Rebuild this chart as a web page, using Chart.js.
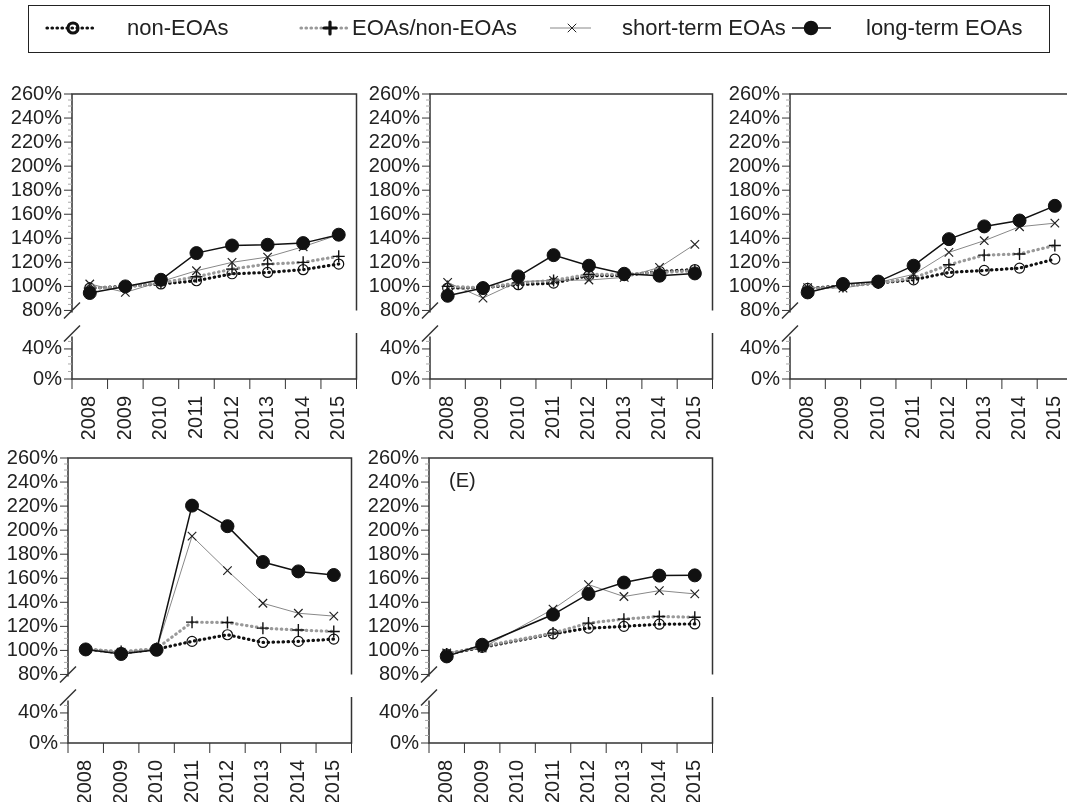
<!DOCTYPE html>
<html>
<head>
<meta charset="utf-8">
<script src="https://cdn.jsdelivr.net/npm/chart.js@4.4.1/dist/chart.umd.min.js"></script>
<style>
  html, body { margin: 0; padding: 0; background: #fff; overflow: hidden; }
  body { width: 1067px; height: 802px; position: relative; font-family: 'Liberation Sans', Arial, sans-serif; }
  canvas.panel { position: absolute; }
  #legend { position: absolute; left: 28px; top: 5px; width: 1022px; height: 48px; border: 1.5px solid #222; box-sizing: border-box; }
  #legendMarks { position: absolute; left: 0; top: 0; }
  .lab { position: absolute; top: 9px; font-size: 22px; color: #222; white-space: nowrap; }
</style>
</head>
<body>
<div id="legend">
  <canvas id="legendMarks" width="1020" height="45"></canvas>
  <span class="lab" style="left:98px">non-EOAs</span>
  <span class="lab" style="left:323px">EOAs/non-EOAs</span>
  <span class="lab" style="left:593px">short-term EOAs</span>
  <span class="lab" style="left:837px">long-term EOAs</span>
</div>
<canvas class="panel" id="p1"></canvas>
<canvas class="panel" id="p2"></canvas>
<canvas class="panel" id="p3"></canvas>
<canvas class="panel" id="p4"></canvas>
<canvas class="panel" id="p5"></canvas>
<script>
const years = ['2008', '2009', '2010', '2011', '2012', '2013', '2014', '2015'];
const seriesNames = ['non-EOAs', 'EOAs/non-EOAs', 'short-term EOAs', 'long-term EOAs'];
const upperTicks = [80, 100, 120, 140, 160, 180, 200, 220, 240, 260];
const lowerTicks = [0, 40];

// panel 1
const p1Non   = [98.6, 100, 102, 104.7, 110.5, 111.6, 113.9, 118.6];
const p1Mixed = [98.6, 99.5, 102.8, 108, 114.4, 118.6, 120, 125];
const p1Short = [102, 95, 104, 113, 120, 124.4, 133, 143];
const p1Long  = [94.5, 100, 105.5, 127.7, 134, 134.6, 136, 143];
// panel 2
const p2Non   = [98.6, 99, 101.4, 102.8, 109, 109, 112.5, 114];
const p2Mixed = [100, 99, 102.8, 105, 110, 110, 111.6, 113];
const p2Short = [103.3, 90.3, 104, 105, 105.3, 107.5, 115.8, 135];
const p2Long  = [92.2, 98.6, 108.3, 126, 117.2, 110.5, 108.9, 110.8];
// panel 3
const p3Non   = [98.3, 100.5, 102.8, 105.5, 111.6, 113.3, 115.2, 122.7];
const p3Mixed = [98, 100, 102.8, 107, 118, 126, 127, 134];
const p3Short = [99, 98.6, 103.3, 110, 128.3, 138, 149.6, 152.6];
const p3Long  = [95, 102, 104, 117.2, 139.3, 149.9, 154.8, 167];
// panel 4
const p4Non   = [101, 98, 101, 107.5, 113, 106.6, 107.5, 109.4];
const p4Mixed = [101, 99, 101.5, 123.5, 123.2, 118.5, 117, 115.7];
const p4Short = [101, 98.5, 101, 195, 166.3, 139.2, 130.9, 128.5];
const p4Long  = [100.8, 97, 100.5, 220.4, 203.3, 173.5, 165.7, 162.7];
// panel 5 (no 2010 value)
const p5Non   = [97, 102.5, null, 113.8, 118.5, 120, 121.8, 122];
const p5Mixed = [97, 103.3, null, 114.4, 122.7, 126, 128.2, 127.6];
const p5Short = [97.8, 102, null, 134.3, 154.7, 144.8, 149.7, 147];
const p5Long  = [95, 104.7, null, 129.8, 147, 156.4, 162.2, 162.4];

const panelNotes = ['', '', '', '', '(E)'];

Chart.defaults.font.family = "'Liberation Sans', Arial, sans-serif";
Chart.defaults.font.size = 20;
Chart.defaults.color = '#222';

const breakValue = 61.3;   // upper part runs down to here, lower part starts here
const axisW = 70, padTop = 14, padRight = 6, xAxisH = 60;

// plot box of every panel: left, right, top (260%), bottom (0%)
const boxes = [
  {l: 72, r: 358, t: 94, b: 379},
  {l: 430, r: 714, t: 94, b: 379},
  {l: 790, r: 1074, t: 94, b: 379},
  {l: 68, r: 353, t: 458, b: 743},
  {l: 429, r: 714, t: 458, b: 743}
];

const styles = [
  {borderColor: '#111', borderWidth: 3.2, borderDash: [0.5, 4.5], borderCapStyle: 'round',
   pointStyle: 'circle', pointRadius: 5, pointBackgroundColor: 'rgba(255,255,255,0)', pointBorderColor: '#111', pointBorderWidth: 1.2, order: 4},
  {borderColor: '#999', borderWidth: 3.2, borderDash: [0.5, 4.5], borderCapStyle: 'round',
   pointStyle: 'cross', pointRadius: 6, pointBorderColor: '#111', pointBorderWidth: 1.4, order: 3},
  {borderColor: '#888', borderWidth: 1,
   pointStyle: 'crossRot', pointRadius: 6, pointBorderColor: '#222', pointBorderWidth: 1.2, order: 2},
  {borderColor: '#111', borderWidth: 1.5,
   pointStyle: 'circle', pointRadius: 6.5, pointBackgroundColor: '#111', pointBorderColor: '#111', pointBorderWidth: 1, order: 1}
];

const framePlugin = {
  id: 'frame',
  beforeDatasetsDraw(chart, args, opts) {
    const ctx = chart.ctx;
    const xs = chart.scales.x, yu = chart.scales.y, yl = chart.scales.y2;
    const L = xs.left, R = xs.right;
    const T = yu.getPixelForValue(260), B = yl.getPixelForValue(0);
    const y80 = yu.getPixelForValue(80);
    ctx.save();
    ctx.strokeStyle = '#333';
    ctx.lineWidth = 1.5;
    ctx.beginPath();
    ctx.moveTo(L, y80 + 2); ctx.lineTo(L, T); ctx.lineTo(R, T); ctx.lineTo(R, y80);
    ctx.moveTo(L, y80 + 26); ctx.lineTo(L, B); ctx.lineTo(R, B); ctx.lineTo(R, yl.getPixelForValue(breakValue));
    // break marks
    ctx.moveTo(L - 8, y80 + 8); ctx.lineTo(L + 8, y80 - 8);
    ctx.moveTo(L - 8, y80 + 31); ctx.lineTo(L + 8, y80 + 15);
    ctx.stroke();
    // major y ticks
    ctx.lineWidth = 1;
    ctx.beginPath();
    upperTicks.forEach(v => { const y = yu.getPixelForValue(v); ctx.moveTo(L - 8, y); ctx.lineTo(L, y); });
    lowerTicks.forEach(v => { const y = yl.getPixelForValue(v); ctx.moveTo(L - 8, y); ctx.lineTo(L, y); });
    // x ticks at category borders
    const half = (xs.getPixelForValue(1) - xs.getPixelForValue(0)) / 2;
    for (let i = 0; i <= years.length; i++) {
      const x = xs.getPixelForValue(i) - half;
      ctx.moveTo(x, B); ctx.lineTo(x, B + 10);
    }
    ctx.stroke();
    // minor y ticks
    ctx.strokeStyle = '#aaa';
    ctx.beginPath();
    for (let v = 85; v < 260; v += 5) {
      if (v % 20 === 0) continue;
      const y = yu.getPixelForValue(v); ctx.moveTo(L - 4, y); ctx.lineTo(L, y);
    }
    [10, 20, 30, 50].forEach(v => { const y = yl.getPixelForValue(v); ctx.moveTo(L - 4, y); ctx.lineTo(L, y); });
    ctx.stroke();
    if (opts.note) {
      ctx.fillStyle = '#222';
      ctx.font = "20px 'Liberation Sans', Arial, sans-serif";
      ctx.textBaseline = 'middle';
      ctx.fillText(opts.note, L + 20, T + 23);
    }
    ctx.restore();
  }
};

function makePanel(id, box, data, note) {
  const cv = document.getElementById(id);
  const w = (box.r - box.l) + axisW + padRight;
  const h = (box.b - box.t) + padTop + xAxisH;
  cv.width = w; cv.height = h;
  cv.style.left = (box.l - axisW) + 'px';
  cv.style.top = (box.t - padTop) + 'px';
  cv.style.width = w + 'px';
  cv.style.height = h + 'px';

  const hidden = {display: false, drawTicks: false};
  const fitY = s => { s.width = axisW; s.paddingTop = 0; s.paddingBottom = 0; };
  new Chart(cv, {
    type: 'line',
    data: {
      labels: years,
      datasets: data.map((d, i) => Object.assign({label: seriesNames[i], data: d, spanGaps: true, tension: 0, fill: false}, styles[i]))
    },
    plugins: [framePlugin],
    options: {
      responsive: false,
      animation: false,
      events: [],
      layout: {padding: {top: padTop, right: padRight, left: 0, bottom: 0}},
      plugins: {legend: {display: false}, tooltip: {enabled: false}, frame: {note: note}},
      scales: {
        x: {
          type: 'category', offset: true,
          grid: hidden, border: {display: false},
          ticks: {minRotation: 90, maxRotation: 90, autoSkip: false, padding: 17},
          afterFit: s => { s.height = xAxisH; s.paddingLeft = 0; s.paddingRight = 0; }
        },
        y: {
          position: 'left', stack: 'panel', stackWeight: 260 - breakValue, weight: 1,
          min: breakValue, max: 260,
          grid: hidden, border: {display: false},
          ticks: {padding: 10, autoSkip: false, callback: v => v + '%'},
          afterBuildTicks: s => { s.ticks = upperTicks.map(v => ({value: v})); },
          afterFit: fitY
        },
        y2: {
          position: 'left', stack: 'panel', stackWeight: breakValue * 0.75 / 1.2, weight: 0,
          min: 0, max: breakValue,
          grid: hidden, border: {display: false},
          ticks: {padding: 10, autoSkip: false, callback: v => v + '%'},
          afterBuildTicks: s => { s.ticks = lowerTicks.map(v => ({value: v})); },
          afterFit: fitY
        }
      }
    }
  });
}

makePanel('p1', boxes[0], [p1Non, p1Mixed, p1Short, p1Long], panelNotes[0]);
makePanel('p2', boxes[1], [p2Non, p2Mixed, p2Short, p2Long], panelNotes[1]);
makePanel('p3', boxes[2], [p3Non, p3Mixed, p3Short, p3Long], panelNotes[2]);
makePanel('p4', boxes[3], [p4Non, p4Mixed, p4Short, p4Long], panelNotes[3]);
makePanel('p5', boxes[4], [p5Non, p5Mixed, p5Short, p5Long], panelNotes[4]);

// legend samples (x in legend box coordinates)
(function () {
  const ctx = document.getElementById('legendMarks').getContext('2d');
  const cy = 22;
  const marks = [{x0: 18, x1: 68, cx: 44}, {x0: 272, x1: 318, cx: 301}, {x0: 521, x1: 562, cx: 543}, {x0: 763, x1: 802, cx: 782}];
  marks.forEach((m, i) => {
    const s = styles[i];
    ctx.save();
    ctx.strokeStyle = s.borderColor;
    ctx.lineWidth = s.borderWidth;
    ctx.lineCap = s.borderCapStyle || 'butt';
    ctx.setLineDash(s.borderDash || []);
    ctx.beginPath(); ctx.moveTo(m.x0, cy); ctx.lineTo(m.x1, cy); ctx.stroke();
    ctx.setLineDash([]);
    ctx.strokeStyle = s.pointBorderColor;
    ctx.fillStyle = s.pointBackgroundColor || 'rgba(0,0,0,0)';
    Chart.helpers.drawPoint(ctx, {pointStyle: s.pointStyle, radius: s.pointRadius, borderWidth: s.pointBorderWidth, rotation: 0}, m.cx, cy);
    ctx.restore();
  });
})();
</script>
</body>
</html>
